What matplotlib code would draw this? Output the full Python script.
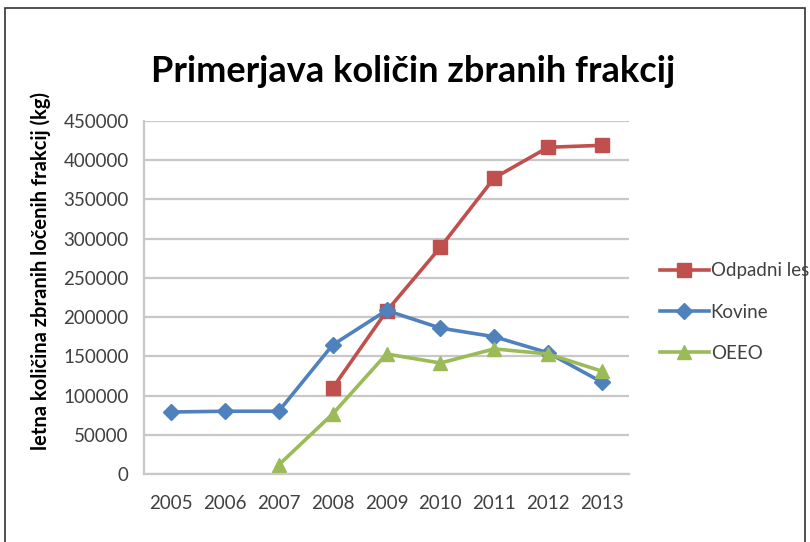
import numpy as np
import matplotlib
matplotlib.use("Agg")
import matplotlib.pyplot as plt
from matplotlib.patches import Rectangle

plt.rcParams['font.family'] = ['Lato', 'DejaVu Sans']

# podatki
years = ['2005', '2006', '2007', '2008', '2009', '2010', '2011', '2012', '2013']
odpadni_les = [np.nan, np.nan, np.nan, 109500, 207500, 289000, 377500, 416500, 419000]
kovine = [79000, 80000, 80000, 164500, 208500, 186000, 175000, 154500, 117000]
oeeo = [np.nan, np.nan, 11500, 76500, 153000, 141500, 159500, 153000, 131000]
yticks = [0, 50000, 100000, 150000, 200000, 250000, 300000, 350000, 400000, 450000]

W, H = 810, 542
fig = plt.figure(figsize=(W / 100, H / 100), dpi=100)

# okvir
fig.patches.append(Rectangle((5 / W, -0.1), 800 / W, (H - 8) / H + 0.1, transform=fig.transFigure,
                             fill=False, edgecolor='#333333', linewidth=1.2))

ax = fig.add_axes([144 / W, (H - 474) / H, (629 - 144) / W, (474 - 121) / H])
x = np.arange(len(years))

ax.plot(x, odpadni_les, color='#C0504D', marker='s', markersize=10, linewidth=2.6, label='Odpadni les')
ax.plot(x, kovine, color='#4F81BD', marker='D', markersize=8, linewidth=2.6, label='Kovine')
ax.plot(x, oeeo, color='#9BBB59', marker='^', markersize=10, linewidth=2.6, label='OEEO')

ax.set_xlim(-0.5, len(years) - 0.5)
ax.set_ylim(0, 450000)
ax.set_xticks(x)
ax.set_xticklabels(years, fontsize=13.5, color='#404040')
ax.set_yticks(yticks)
ax.set_yticklabels([str(v) for v in yticks], fontsize=13.5, color='#404040')
ax.tick_params(axis='both', length=0)
ax.tick_params(axis='y', pad=11)
ax.tick_params(axis='x', pad=15)
ax.yaxis.grid(True, color='#c8c8c8', linewidth=1.6)
ax.set_axisbelow(True)
for s in ['top', 'right']:
    ax.spines[s].set_visible(False)
ax.spines['left'].set_color('#c8c8c8')
ax.spines['left'].set_linewidth(1.6)
ax.spines['bottom'].set_color('#c8c8c8')
ax.spines['bottom'].set_linewidth(1.6)

ax.set_ylabel('letna količina zbranih ločenih frakcij (kg)', fontsize=14.5, fontweight='bold')
ax.yaxis.set_label_coords(41 / W, 0.5, transform=fig.transFigure)
ax.yaxis.label.set_va('center')

fig.text(413 / W, 1 - 72 / H, 'Primerjava količin zbranih frakcij', ha='center', va='center',
         fontsize=26, fontweight='bold')

fig.legend(loc='center left', bbox_to_anchor=(660 / W, 1 - 312 / H), frameon=False,
           fontsize=13.5, handlelength=2.6, handletextpad=0.1, labelspacing=1.3,
           labelcolor='#404040', borderaxespad=0, borderpad=0)

plt.savefig('out.png', dpi=100)
